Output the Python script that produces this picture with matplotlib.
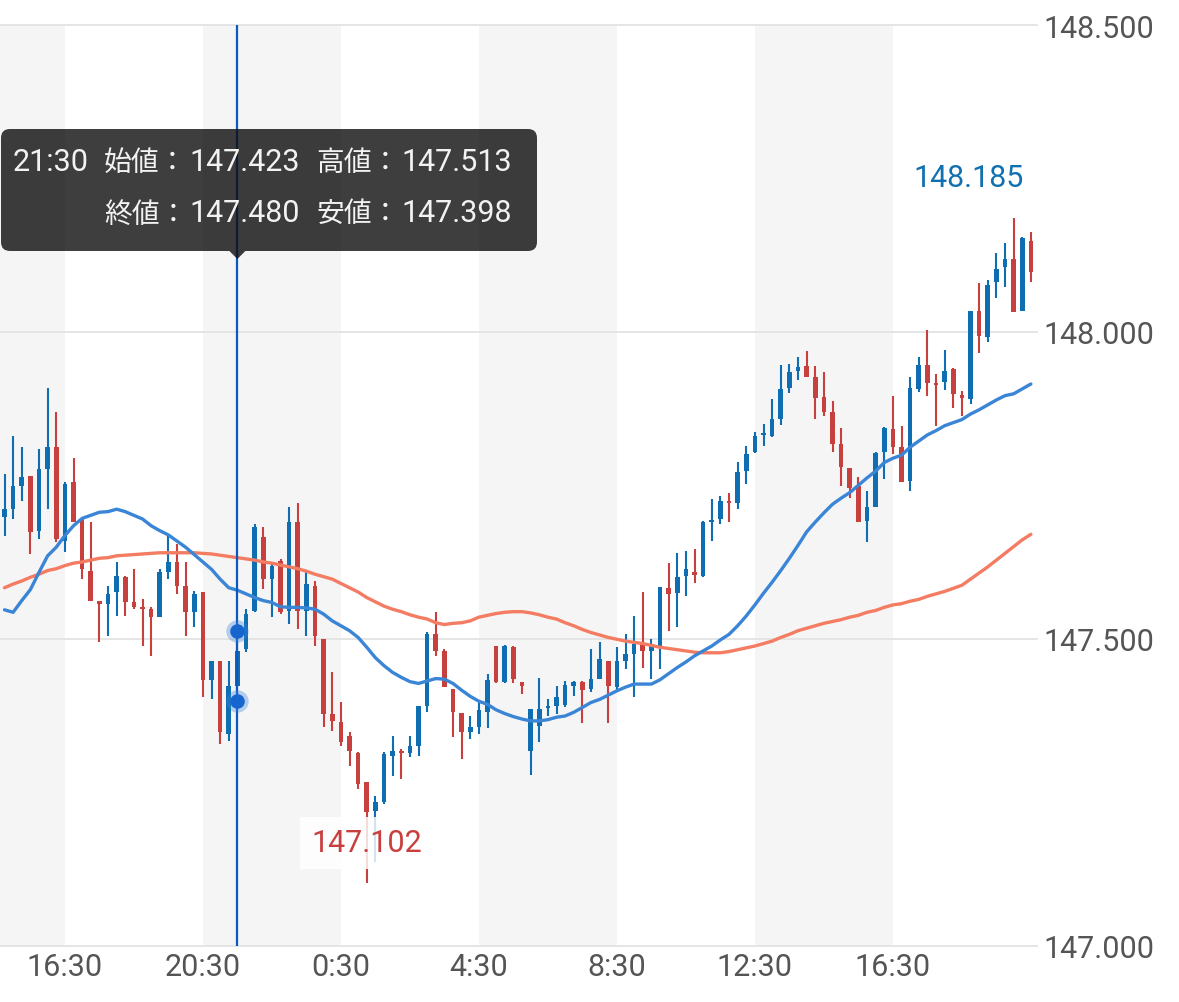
import numpy as np
import pandas as pd
import matplotlib
matplotlib.use("Agg")
import matplotlib.pyplot as plt
from matplotlib.patches import FancyBboxPatch, Polygon
from matplotlib.transforms import Affine2D

plt.rcParams['font.family'] = ['Roboto', 'Noto Sans CJK JP', 'DejaVu Sans']

# ---------------- data ----------------
start_time = '2024-01-01 14:45'
n_candles = 120
times = pd.date_range(start_time, periods=n_candles, freq='15min')

opens = [147.698, 147.711, 147.749, 147.765, 147.675, 147.776, 147.812, 147.659, 147.755, 147.695,
         147.610, 147.561, 147.556, 147.576, 147.600, 147.560, 147.551, 147.548, 147.535, 147.608,
         147.625, 147.586, 147.543, 147.576, 147.432, 147.463, 147.344, 147.423, 147.483, 147.545,
         147.665, 147.597, 147.626, 147.545, 147.690, 147.545, 147.586, 147.499, 147.377, 147.364,
         147.341, 147.313, 147.266, 147.219, 147.234, 147.309, 147.317, 147.313, 147.325, 147.390,
         147.507, 147.480, 147.418, 147.379, 147.348, 147.356, 147.380, 147.488, 147.429, 147.486,
         147.429, 147.317, 147.357, 147.387, 147.390, 147.392, 147.423, 147.429, 147.418, 147.434,
         147.463, 147.421, 147.463, 147.475, 147.491, 147.480, 147.488, 147.582, 147.574, 147.602,
         147.608, 147.602, 147.690, 147.695, 147.724, 147.721, 147.773, 147.804, 147.832, 147.830,
         147.858, 147.908, 147.936, 147.944, 147.926, 147.894, 147.869, 147.817, 147.778, 147.749,
         147.692, 147.714, 147.804, 147.842, 147.812, 147.757, 147.907, 147.946, 147.916, 147.918,
         147.939, 147.897, 147.890, 148.034, 147.991, 148.081, 148.106, 148.119, 148.034, 148.148]
highs = [147.768, 147.830, 147.812, 147.765, 147.809, 147.908, 147.869, 147.755, 147.794, 147.695,
         147.690, 147.561, 147.586, 147.625, 147.602, 147.613, 147.564, 147.551, 147.613, 147.667,
         147.654, 147.625, 147.577, 147.576, 147.463, 147.463, 147.463, 147.513, 147.548, 147.687,
         147.682, 147.621, 147.630, 147.714, 147.721, 147.608, 147.594, 147.499, 147.445, 147.397,
         147.348, 147.315, 147.266, 147.243, 147.315, 147.341, 147.320, 147.341, 147.390, 147.511,
         147.543, 147.483, 147.418, 147.379, 147.374, 147.395, 147.442, 147.488, 147.489, 147.488,
         147.429, 147.385, 147.436, 147.401, 147.423, 147.431, 147.431, 147.431, 147.483, 147.494,
         147.463, 147.486, 147.507, 147.537, 147.576, 147.499, 147.584, 147.623, 147.639, 147.643,
         147.646, 147.692, 147.727, 147.732, 147.737, 147.788, 147.814, 147.837, 147.850, 147.890,
         147.946, 147.947, 147.959, 147.969, 147.944, 147.934, 147.887, 147.843, 147.778, 147.763,
         147.740, 147.804, 147.845, 147.895, 147.846, 147.926, 147.959, 148.003, 147.931, 147.970,
         147.941, 147.903, 148.034, 148.079, 148.084, 148.128, 148.145, 148.185, 148.154, 148.163]
lows = [147.667, 147.695, 147.724, 147.638, 147.662, 147.711, 147.657, 147.641, 147.690, 147.597,
        147.561, 147.494, 147.504, 147.537, 147.537, 147.548, 147.488, 147.471, 147.535, 147.597,
        147.573, 147.504, 147.519, 147.405, 147.401, 147.328, 147.333, 147.398, 147.478, 147.543,
        147.581, 147.535, 147.540, 147.524, 147.515, 147.504, 147.488, 147.356, 147.349, 147.325,
        147.292, 147.255, 147.102, 147.136, 147.230, 147.276, 147.271, 147.307, 147.309, 147.380,
        147.471, 147.421, 147.339, 147.304, 147.336, 147.344, 147.354, 147.427, 147.427, 147.427,
        147.410, 147.278, 147.331, 147.374, 147.377, 147.388, 147.406, 147.362, 147.413, 147.434,
        147.362, 147.413, 147.450, 147.405, 147.452, 147.434, 147.450, 147.512, 147.519, 147.569,
        147.590, 147.600, 147.659, 147.687, 147.690, 147.711, 147.752, 147.802, 147.814, 147.828,
        147.848, 147.900, 147.921, 147.926, 147.858, 147.863, 147.804, 147.749, 147.729, 147.690,
        147.657, 147.714, 147.760, 147.801, 147.755, 147.740, 147.902, 147.895, 147.846, 147.905,
        147.876, 147.863, 147.882, 147.965, 147.983, 148.055, 148.073, 148.032, 148.034, 148.081]
closes = [147.711, 147.749, 147.763, 147.674, 147.776, 147.812, 147.662, 147.752, 147.690, 147.613,
          147.561, 147.556, 147.573, 147.602, 147.560, 147.551, 147.548, 147.535, 147.608, 147.625,
          147.586, 147.543, 147.573, 147.432, 147.463, 147.348, 147.423, 147.480, 147.540, 147.682,
          147.597, 147.618, 147.543, 147.690, 147.545, 147.589, 147.504, 147.377, 147.366, 147.331,
          147.317, 147.263, 147.217, 147.234, 147.312, 147.317, 147.313, 147.325, 147.390, 147.507,
          147.480, 147.421, 147.380, 147.348, 147.356, 147.383, 147.432, 147.429, 147.488, 147.434,
          147.423, 147.385, 147.385, 147.390, 147.405, 147.424, 147.429, 147.416, 147.434, 147.467,
          147.423, 147.463, 147.475, 147.491, 147.480, 147.491, 147.584, 147.573, 147.600, 147.613,
          147.604, 147.690, 147.693, 147.724, 147.721, 147.771, 147.801, 147.830, 147.835, 147.858,
          147.907, 147.934, 147.943, 147.926, 147.892, 147.869, 147.817, 147.780, 147.745, 147.690,
          147.714, 147.802, 147.843, 147.812, 147.755, 147.908, 147.946, 147.916, 147.915, 147.936,
          147.899, 147.892, 148.034, 147.993, 148.076, 148.102, 148.119, 148.032, 148.153, 148.097]

ma_short = [147.547, 147.543, 147.562, 147.580, 147.608, 147.635, 147.649, 147.668, 147.684, 147.696,
            147.701, 147.706, 147.707, 147.711, 147.707, 147.701, 147.695, 147.684, 147.676, 147.669,
            147.659, 147.649, 147.637, 147.625, 147.613, 147.597, 147.583, 147.579, 147.573, 147.567,
            147.562, 147.559, 147.552, 147.551, 147.551, 147.550, 147.548, 147.540, 147.529, 147.521,
            147.513, 147.502, 147.486, 147.469, 147.456, 147.445, 147.437, 147.430, 147.427, 147.431,
            147.435, 147.434, 147.427, 147.416, 147.406, 147.398, 147.393, 147.384, 147.378, 147.373,
            147.369, 147.366, 147.366, 147.368, 147.372, 147.374, 147.380, 147.388, 147.396, 147.401,
            147.408, 147.415, 147.421, 147.426, 147.426, 147.426, 147.433, 147.443, 147.453, 147.462,
            147.472, 147.480, 147.488, 147.498, 147.507, 147.521, 147.537, 147.555, 147.574, 147.592,
            147.611, 147.631, 147.652, 147.674, 147.690, 147.705, 147.719, 147.729, 147.738, 147.750,
            147.762, 147.773, 147.787, 147.794, 147.799, 147.812, 147.822, 147.832, 147.839, 147.847,
            147.852, 147.857, 147.866, 147.873, 147.881, 147.889, 147.896, 147.899, 147.907, 147.915]
ma_long = [147.583, 147.589, 147.594, 147.600, 147.605, 147.611, 147.614, 147.619, 147.623, 147.625,
           147.628, 147.631, 147.632, 147.635, 147.636, 147.637, 147.638, 147.639, 147.640, 147.640,
           147.640, 147.640, 147.640, 147.639, 147.638, 147.636, 147.634, 147.632, 147.630, 147.628,
           147.625, 147.623, 147.620, 147.617, 147.614, 147.610, 147.605, 147.601, 147.597, 147.590,
           147.583, 147.576, 147.567, 147.560, 147.553, 147.548, 147.544, 147.539, 147.535, 147.532,
           147.526, 147.523, 147.525, 147.526, 147.529, 147.535, 147.538, 147.541, 147.543, 147.544,
           147.544, 147.542, 147.539, 147.535, 147.532, 147.526, 147.521, 147.515, 147.510, 147.506,
           147.502, 147.499, 147.496, 147.494, 147.492, 147.489, 147.486, 147.484, 147.482, 147.480,
           147.478, 147.477, 147.477, 147.477, 147.479, 147.482, 147.485, 147.488, 147.492, 147.496,
           147.502, 147.507, 147.513, 147.517, 147.521, 147.525, 147.528, 147.531, 147.535, 147.538,
           147.543, 147.546, 147.551, 147.555, 147.557, 147.561, 147.564, 147.569, 147.573, 147.577,
           147.582, 147.587, 147.597, 147.607, 147.617, 147.628, 147.639, 147.650, 147.661, 147.670]

price_ticks = [147.0, 147.5, 148.0, 148.5]
cursor_time = '21:30'
tooltip_names = ['始値', '高値', '終値', '安値']

# ---------------- style ----------------
BLUE = '#0f6db2'
RED = '#c8403e'
MA_SHORT_C = '#3a85d6'
MA_LONG_C = '#f47c62'
BAND = '#f5f5f5'
GRID = '#e3e3e3'
CROSS = '#0a58c2'
LABEL = '#555555'

O = np.array(opens); Hh = np.array(highs); L = np.array(lows); C = np.array(closes)
x = np.arange(n_candles)
labels_t = [f"{t.hour}:{t.minute:02d}" for t in times]

W, Hpx = 1179, 1003
fig = plt.figure(figsize=(W / 100, Hpx / 100), dpi=100)
ax_l, ax_r, ax_t, ax_b = 0, 1037, 26, 946.5
ax = fig.add_axes([ax_l / W, 1 - ax_b / Hpx, (ax_r - ax_l) / W, (ax_b - ax_t) / Hpx])
ax.set_xlim(-0.522, 119.71)
ax.set_ylim(price_ticks[0], price_ticks[-1])
for s in ax.spines.values():
    s.set_visible(False)

# ticks every 4 hours at :30 (not at the very last candle)
tick_idx = [i for i, t in enumerate(times)
            if t.minute == 30 and t.hour % 4 == 0 and i < n_candles - 4]
edges = [ax.get_xlim()[0]] + tick_idx + [ax.get_xlim()[1]]
for k in range(len(edges) - 1):
    if k % 2 == 0:
        ax.axvspan(edges[k], edges[k + 1], color=BAND, lw=0, zorder=0)

for v in price_ticks:
    ax.axhline(v, color=GRID, lw=1.3, zorder=1, clip_on=False)

ax.set_xticks(tick_idx)
ax.set_xticklabels([labels_t[i] for i in tick_idx])
ax.tick_params(axis='x', length=0, pad=5, labelsize=22, labelcolor=LABEL)
ax.yaxis.tick_right()
ax.set_yticks(price_ticks)
ax.set_yticklabels([f"{v:.3f}" for v in price_ticks])
ax.tick_params(axis='y', length=0, pad=4.5, labelsize=22, labelcolor=LABEL)

# candles
up = C >= O
cols = np.where(up, BLUE, RED)
ax.vlines(x, L, Hh, colors=cols, lw=1.5, zorder=2)
body_h = np.abs(C - O)
min_h = 0.003
body_b = np.minimum(O, C) - np.where(body_h < min_h, (min_h - body_h) / 2, 0)
ax.bar(x, np.maximum(body_h, min_h), bottom=body_b, width=0.55, color=cols, lw=0, zorder=2)

# moving averages
ax.plot(x, ma_long, color=MA_LONG_C, lw=2.4, zorder=3, solid_capstyle='round')
ax.plot(x, ma_short, color=MA_SHORT_C, lw=2.4, zorder=3, solid_capstyle='round')

# high / low labels
imax = int(np.argmax(Hh)); imin = int(np.argmin(L))
ax.annotate(f"{Hh[imax]:.3f}", xy=(imax, Hh[imax]), xytext=(7, 29.5), textcoords='offset points',
            ha='right', va='center', color='#1070b0', fontsize=22, zorder=6)
ax.annotate(f"{L[imin]:.3f}", xy=(imin, L[imin]), xytext=(0, 29), textcoords='offset points',
            ha='center', va='center', color=RED, fontsize=22, zorder=6,
            bbox=dict(boxstyle='square,pad=0.38', fc='white', ec='none', alpha=0.82))

# crosshair
ci = labels_t.index(cursor_time)
ax.axvline(ci, color=CROSS, lw=1.6, zorder=4)
ax.scatter([ci, ci], [Hh[ci], L[ci]], s=260, color='#3d85e0', alpha=0.35, lw=0, zorder=5)
ax.scatter([ci, ci], [Hh[ci], L[ci]], s=110, color='#1766d0', lw=0, zorder=5)

# tooltip (pixel coordinates, y downward)
tpx = Affine2D().scale(1 / W, -1 / Hpx).translate(0, 1) + fig.transFigure
box = FancyBboxPatch((1, 130), 536, 122, boxstyle='round,pad=0,rounding_size=9',
                     transform=tpx, fc='#0d0d0d', ec='none', alpha=0.8)
fig.add_artist(box)
px_cross = 4.5 + ci * 8.625
tri = Polygon([(px_cross - 8, 252), (px_cross + 8, 252), (px_cross, 260)], closed=True,
              transform=tpx, fc='#0d0d0d', ec='none', alpha=0.8)
fig.add_artist(tri)
tc = '#f2f2f2'
fig.text(13, 171.4, labels_t[ci], transform=tpx, color=tc, fontsize=22, va='baseline', ha='left')
vals = [O[ci], Hh[ci], C[ci], L[ci]]
pos = [(104, 189, 171.4), (316, 401.5, 171.4), (104, 189, 222.5), (316, 401.5, 222.5)]
for name, v, (xl, xv, yb) in zip(tooltip_names, vals, pos):
    fig.text(xl, yb, name + '：', transform=tpx, color=tc, fontsize=20, va='baseline', ha='left')
    fig.text(xv, yb, f"{v:.3f}", transform=tpx, color=tc, fontsize=22, va='baseline', ha='left')

fig.savefig('out.png', dpi=100)
